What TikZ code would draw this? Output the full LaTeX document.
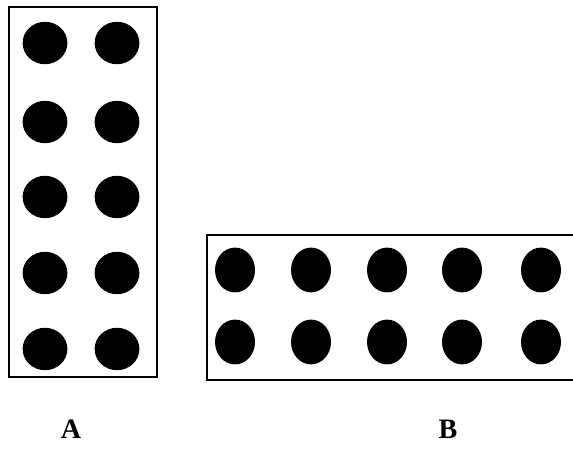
\documentclass[tikz,border=0pt]{standalone}
\usepackage{fontspec}
\setmainfont{Liberation Serif}
\begin{document}
\begin{tikzpicture}[line width=1.3pt]
  \useasboundingbox (0,0) rectangle (14.325,11.2);
  \clip (0,0) rectangle (14.325,11.2);
  \draw (0.225,1.775) rectangle (3.925,11.025);
  \foreach \x in {1.125,2.925}
    \foreach \y in {10.125,8.15,6.275,4.375,2.475}
      \fill (\x,\y) ellipse (0.56 and 0.53);
  \node[font=\fontsize{20}{20}\selectfont\bfseries,anchor=base,inner sep=0pt] (labA) at (1.775,0.24) {A};
  \draw (5.175,1.7) rectangle (14.8,5.325);
  \foreach \x in {5.875,7.775,9.675,11.55,13.525}
    \foreach \y in {4.45,2.65}
      \fill (\x,\y) ellipse (0.5 and 0.56);
  \node[font=\fontsize{20}{20}\selectfont\bfseries,anchor=base,inner sep=0pt] (labB) at (11.2,0.24) {B};
\end{tikzpicture}
\end{document}
